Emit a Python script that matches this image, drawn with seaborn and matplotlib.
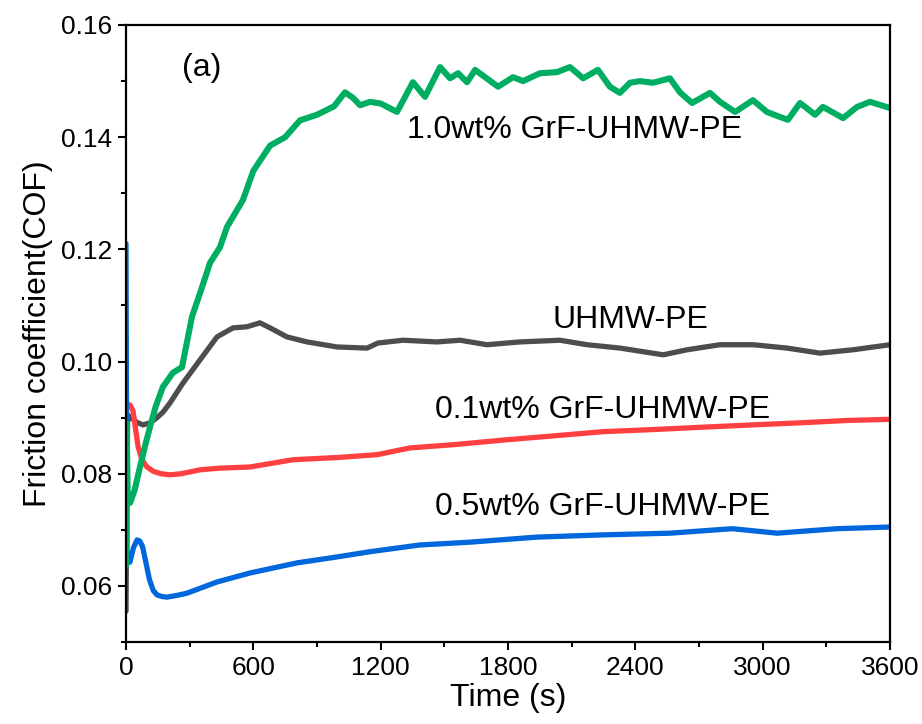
import numpy as np
import pandas as pd
import matplotlib
matplotlib.use("Agg")
import matplotlib.pyplot as plt
import seaborn as sns
from matplotlib.ticker import MultipleLocator

# ---- data ----
t_uhmw = [0, 3, 8, 19, 50, 80, 115, 146, 175, 207, 269, 349, 429, 504, 570, 631, 679, 758, 853,
          994, 1136, 1187, 1305, 1466, 1574, 1701, 1857, 2045, 2172, 2328, 2531, 2644, 2799,
          2955, 3115, 3270, 3426, 3600]
cof_uhmw = [0.0555, 0.075, 0.0905, 0.0901, 0.0892, 0.0887, 0.0891, 0.0900, 0.0910, 0.0926,
            0.0962, 0.1003, 0.1044, 0.1060, 0.1062, 0.1069, 0.1060, 0.1044, 0.1035, 0.1026,
            0.1024, 0.1033, 0.1038, 0.1035, 0.1038, 0.1030, 0.1035, 0.1038, 0.1030, 0.1024,
            0.1012, 0.1021, 0.1030, 0.1030, 0.1024, 0.1015, 0.1021, 0.1030]

t_01 = [0, 20, 33, 45, 57, 75, 99, 130, 165, 207, 260, 349, 443, 584, 787, 1000, 1183, 1338,
        1550, 1777, 2000, 2248, 2500, 2719, 2950, 3190, 3400, 3600]
cof_01 = [0.0926, 0.0922, 0.0912, 0.0880, 0.0848, 0.0825, 0.0812, 0.0804, 0.0800, 0.0798,
          0.0800, 0.0807, 0.0810, 0.0812, 0.0825, 0.0829, 0.0834, 0.0846, 0.0852, 0.0860,
          0.0867, 0.0875, 0.0879, 0.0883, 0.0887, 0.0891, 0.0895, 0.0897]

t_05 = [0, 2, 5, 19, 35, 52, 65, 78, 92, 110, 128, 146, 170, 193, 240, 287, 429, 584, 805, 1000,
        1150, 1385, 1621, 1936, 2248, 2563, 2856, 3068, 3350, 3600]
cof_05 = [0.121, 0.095, 0.0640, 0.0643, 0.0668, 0.0682, 0.0680, 0.0670, 0.0645, 0.0612,
          0.0592, 0.0584, 0.0581, 0.0580, 0.0583, 0.0587, 0.0607, 0.0623, 0.0641, 0.0652,
          0.0661, 0.0673, 0.0678, 0.0687, 0.0691, 0.0694, 0.0702, 0.0694, 0.0702, 0.0705]

t_10 = [0, 3, 8, 19, 40, 66, 90, 113, 140, 174, 221, 264, 311, 349, 396, 443, 476, 551, 600,
        679, 750, 820, 900, 980, 1032, 1070, 1103, 1150, 1200, 1277, 1352, 1409, 1480, 1527,
        1565, 1607, 1645, 1692, 1753, 1824, 1871, 1951, 2031, 2092, 2154, 2224, 2280, 2327,
        2375, 2422, 2483, 2563, 2610, 2667, 2752, 2799, 2870, 2954, 3020, 3082, 3119, 3176,
        3247, 3284, 3379, 3445, 3506, 3600]
cof_10 = [0.0635, 0.0890, 0.0760, 0.0748, 0.0770, 0.0812, 0.0850, 0.0883, 0.0920, 0.0955,
          0.0980, 0.0990, 0.1080, 0.1122, 0.1176, 0.1204, 0.1240, 0.1288, 0.1340, 0.1385,
          0.1400, 0.1430, 0.1440, 0.1455, 0.1480, 0.1470, 0.1457, 0.1463, 0.1460, 0.1445,
          0.1498, 0.1472, 0.1525, 0.1505, 0.1514, 0.1498, 0.1520, 0.1507, 0.1490, 0.1507,
          0.1500, 0.1514, 0.1516, 0.1525, 0.1505, 0.1520, 0.1490, 0.1479, 0.1497, 0.1500,
          0.1497, 0.1505, 0.1480, 0.1461, 0.1479, 0.1463, 0.1445, 0.1466, 0.1445, 0.1436,
          0.1431, 0.1461, 0.1440, 0.1454, 0.1434, 0.1454, 0.1463, 0.1452]

labels = ["1.0wt% GrF-UHMW-PE", "UHMW-PE", "0.1wt% GrF-UHMW-PE", "0.5wt% GrF-UHMW-PE", "(a)"]
x_ticks = [0, 600, 1200, 1800, 2400, 3000, 3600]
y_ticks = [0.06, 0.08, 0.10, 0.12, 0.14, 0.16]

# ---- plot ----
sns.set_theme(style="ticks")
plt.rcParams['font.family'] = ['Liberation Sans', 'DejaVu Sans']
plt.rcParams['text.color'] = 'black'
plt.rcParams['axes.labelcolor'] = 'black'
plt.rcParams['xtick.color'] = 'black'
plt.rcParams['ytick.color'] = 'black'

fig = plt.figure(figsize=(9.22, 7.24), dpi=100)
ax = fig.add_axes([126 / 922, 1 - 642 / 724, 764 / 922, 617 / 724])

series = [
    (t_uhmw, cof_uhmw, "#4d4d4d", 3.8),
    (t_01, cof_01, "#ff4040", 3.8),
    (t_05, cof_05, "#0068dc", 3.8),
    (t_10, cof_10, "#00ae62", 4.4),
]
for t, c, col, lw in series:
    sns.lineplot(x=t, y=c, ax=ax, color=col, linewidth=lw, sort=False,
                 estimator=None, solid_joinstyle="round", solid_capstyle="round")

ax.set_xlim(0, 3600)
ax.set_ylim(0.05, 0.16)
ax.set_xticks(x_ticks)
ax.set_yticks(y_ticks)
ax.xaxis.set_minor_locator(MultipleLocator(300))
ax.yaxis.set_minor_locator(MultipleLocator(0.01))
ax.set_yticklabels([f"{v:.2f}" for v in y_ticks])
ax.tick_params(which="major", direction="out", length=6, width=1.5, labelsize=19,
               colors="black", labelcolor="black", pad=4, top=False, right=False)
ax.tick_params(which="minor", direction="out", length=3.5, width=1.5, top=False, right=False)
for s in ax.spines.values():
    s.set_linewidth(1.6)
    s.set_color("black")
    s.set_visible(True)

ax.set_xlabel("Time (s)", fontsize=23, labelpad=2, color="black")
ax.set_ylabel("Friction coefficient(COF)", fontsize=23, labelpad=6, color="black")

fs = 23
ax.text(264, 0.1523, labels[4], fontsize=fs, va="center", ha="left", color="black")
ax.text(1324, 0.1413, labels[0], fontsize=fs, va="center", ha="left", color="black")
ax.text(2012, 0.1074, labels[1], fontsize=fs, va="center", ha="left", color="black")
ax.text(1456, 0.0914, labels[2], fontsize=fs, va="center", ha="left", color="black")
ax.text(1456, 0.0741, labels[3], fontsize=fs, va="center", ha="left", color="black")

fig.savefig("out.png", dpi=100, facecolor="white")
